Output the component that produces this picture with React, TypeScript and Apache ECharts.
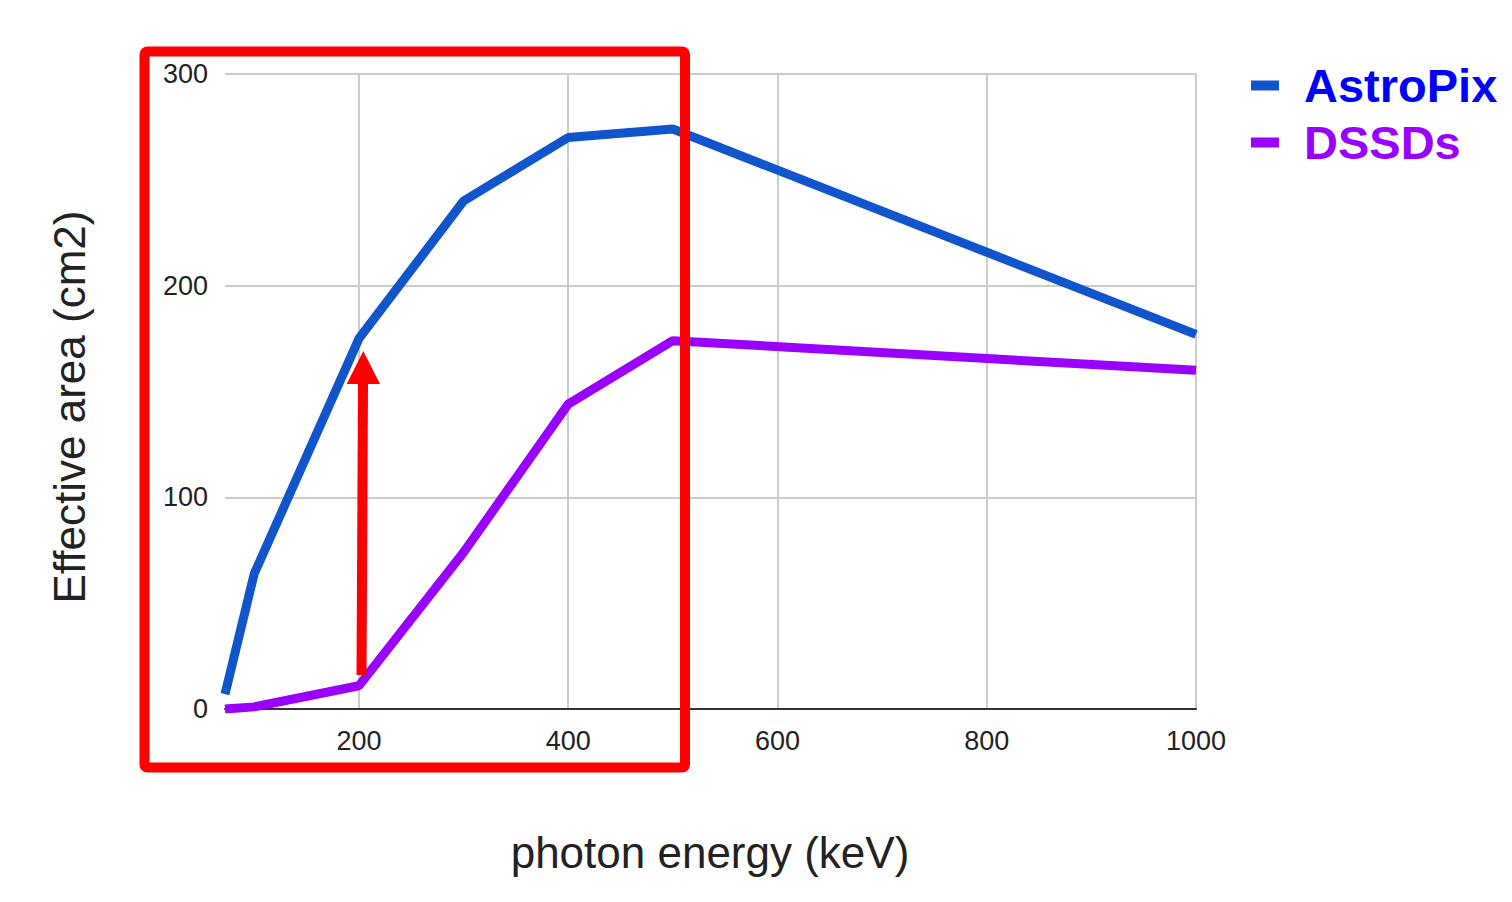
import React, { useEffect, useRef } from "react";
import * as echarts from "echarts";

const energy = [72, 100, 200, 300, 400, 500, 1000];
const astroPix = [7, 64, 175, 240, 270, 274, 177];
const dssds = [0, 1, 11, 74, 144, 174, 160];
const xTicks = [200, 400, 600, 800, 1000];
const yTicks = [0, 100, 200, 300];

const FONT = "Arial, 'Liberation Sans', Helvetica, sans-serif";

export default function App() {
  const ref = useRef<HTMLDivElement>(null);
  useEffect(() => {
    document.body.style.margin = "0";
    const chart = echarts.init(ref.current!, null, { renderer: "svg" });
    chart.setOption({
      animation: false,
      backgroundColor: "#ffffff",
      textStyle: { fontFamily: FONT },
      grid: { left: 225, right: 316, top: 74, bottom: 193, containLabel: false },
      xAxis: {
        type: "value",
        min: energy[0],
        max: 1000,
        axisLine: { show: true, onZero: false, lineStyle: { color: "#333333", width: 2 } },
        axisTick: { show: false, customValues: xTicks },
        axisLabel: {
          customValues: xTicks,
          fontSize: 27,
          color: "#222222",
          margin: 18,
          fontFamily: FONT,
          formatter: (v: number) => String(v),
        },
        splitLine: { show: true, lineStyle: { color: "#cccccc", width: 2 } },
      },
      yAxis: {
        type: "value",
        min: yTicks[0],
        max: yTicks[yTicks.length - 1],
        interval: 100,
        axisLine: { show: false },
        axisTick: { show: false },
        axisLabel: { fontSize: 27, color: "#222222", margin: 17, fontFamily: FONT },
        splitLine: { show: true, lineStyle: { color: "#cccccc", width: 2 } },
      },
      legend: {
        orient: "vertical",
        left: 1246,
        top: 57,
        itemWidth: 28,
        itemHeight: 10,
        itemGap: 10,
        icon: "rect",
        data: [
          { name: "AstroPix", textStyle: { color: "#0000ff" } },
          { name: "DSSDs", textStyle: { color: "#9900ff" } },
        ],
        textStyle: { fontSize: 47, fontWeight: "bold", fontFamily: FONT, padding: [0, 0, 0, 20] },
      },
      series: [
        {
          name: "AstroPix",
          type: "line",
          data: energy.map((e, i) => [e, astroPix[i]]),
          showSymbol: false,
          symbol: "none",
          color: "#1155cc",
          lineStyle: { width: 9, color: "#1155cc" },
          z: 3,
        },
        {
          name: "DSSDs",
          type: "line",
          data: energy.map((e, i) => [e, dssds[i]]),
          showSymbol: false,
          symbol: "none",
          color: "#9900ff",
          lineStyle: { width: 9, color: "#9900ff" },
          z: 3,
        },
      ],
      graphic: [
        {
          type: "text",
          x: 69,
          y: 407,
          rotation: Math.PI / 2,
          style: {
            text: "Effective area (cm2)",
            font: `44px ${FONT}`,
            fill: "#222222",
            align: "center",
            verticalAlign: "middle",
            textAlign: "center",
            textVerticalAlign: "middle",
          },
        },
        {
          type: "text",
          x: 710,
          y: 852,
          style: {
            text: "photon energy (keV)",
            font: `44px ${FONT}`,
            fill: "#222222",
            align: "center",
            verticalAlign: "middle",
            textAlign: "center",
            textVerticalAlign: "middle",
          },
        },
        {
          type: "rect",
          z: 100,
          shape: { x: 144.5, y: 51.5, width: 540.5, height: 716, r: 3 },
          style: { fill: "none", stroke: "#ff0000", lineWidth: 10 },
        },
        {
          type: "polygon",
          z: 100,
          shape: { points: [[356.5, 675], [366.5, 675], [368, 384], [358, 384]] },
          style: { fill: "#ff0000" },
        },
        {
          type: "polygon",
          z: 100,
          shape: { points: [[363.3, 351], [380, 384], [346.7, 384]] },
          style: { fill: "#ff0000" },
        },
      ],
    });
    return () => chart.dispose();
  }, []);
  return <div ref={ref} style={{ width: 1512, height: 902 }} />;
}
